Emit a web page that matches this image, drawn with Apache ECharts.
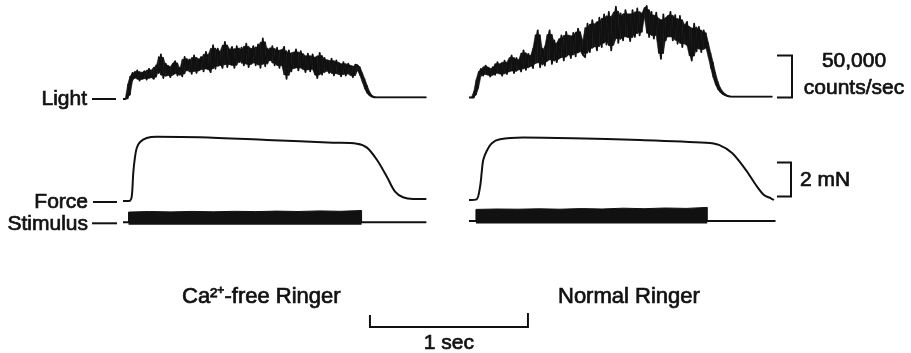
<!DOCTYPE html>
<html>
<head>
<meta charset="utf-8">
<script src="https://cdn.jsdelivr.net/npm/echarts@6.0.0/dist/echarts.min.js"></script>
<style>
  html, body { margin: 0; background: #fff; }
  #chart { width: 911px; height: 353px; }
</style>
</head>
<body>
<div id="chart"></div>
<script>
// light signal, 1000 counts/sec above resting level, one sample every lightStep sec
const lightStep = 0.015
const lightLeft = [
  0, 0, 1, 20, 31, 25, 34, 22, 30, 33,
  23, 36, 27, 24, 40, 31, 53, 25, 42, 36,
  26, 40, 45, 28, 37, 27, 50, 34, 47, 30,
  52, 31, 44, 50, 33, 56, 38, 32, 64, 36,
  60, 45, 37, 68, 38, 55, 62, 37, 63, 44,
  61, 40, 66, 38, 52, 63, 40, 65, 37, 72,
  39, 60, 46, 63, 40, 61, 37, 55, 62, 24,
  58, 33, 47, 59, 34, 57, 44, 32, 54, 33,
  53, 41, 25, 55, 29, 49, 38, 31, 48, 28,
  46, 35, 27, 44, 28, 42, 36, 26, 41, 40,
  33, 26, 18, 10, 5, 3, 2, 2, 2, 2,
  2, 2, 2, 2, 2, 2, 2, 2, 2, 2,
  2, 2, 2, 2, 2, 2, 2, 2, 2
]
const lightRight = [
  0, 0, 0, 8, 24, 34, 26, 38, 31, 25,
  36, 27, 42, 33, 26, 44, 28, 41, 50, 29,
  47, 38, 31, 56, 33, 52, 44, 35, 62, 80,
  36, 58, 38, 64, 80, 40, 68, 42, 55, 74,
  44, 78, 60, 47, 77, 49, 82, 70, 51, 48,
  88, 54, 92, 75, 56, 95, 60, 99, 63, 102,
  56, 86, 108, 65, 100, 68, 104, 90, 67, 104,
  72, 106, 74, 94, 104, 109, 72, 102, 70, 101,
  71, 46, 99, 68, 84, 102, 68, 98, 64, 97,
  60, 84, 90, 58, 44, 88, 55, 84, 54, 80,
  68, 56, 45, 32, 21, 13, 8, 5, 3, 2,
  1, 1, 1, 1, 1, 1, 1, 1, 1, 1,
  1, 1, 1, 1, 1, 1, 1, 1, 1
]

// force, mN
const forceTimeLeft = [0, 0.04, 0.055, 0.065, 0.076, 0.087, 0.108, 0.15, 0.213, 0.487, 0.91, 1.33, 1.48, 1.544, 1.608, 1.671, 1.722, 1.772, 1.835, 1.92]
const forceLeft = [0, 0, 0.24, 1.65, 2.59, 3.12, 3.47, 3.71, 3.78, 3.75, 3.59, 3.43, 3.37, 3.14, 2.41, 1.41, 0.55, 0.22, 0.12, 0.12]
const forceTimeRight = [0, 0.048, 0.07, 0.08, 0.09, 0.112, 0.143, 0.196, 0.342, 0.658, 1.082, 1.5, 1.582, 1.665, 1.753, 1.816, 1.867, 1.911, 1.93]
const forceRight = [0, 0.04, 0.78, 1.59, 2.35, 2.88, 3.33, 3.57, 3.67, 3.63, 3.53, 3.37, 3.24, 2.76, 1.76, 0.88, 0.29, 0.1, 0]

// stimulus train: on / off time (sec), height of the pulse envelope
const stimLeft = { on: 0.035, off: 1.51, end: 1.92 }
const stimTopLeft = [1.02, 1.08, 1.04, 1.09, 1.05, 1.1, 1.07, 1.12, 1.08, 1.14, 1.1, 1.18]
const stimRight = { on: 0.044, off: 1.508, end: 1.94 }
const stimTopRight = [1.16, 1.2, 1.18, 1.22, 1.18, 1.24, 1.2, 1.28, 1.23, 1.3, 1.26, 1.36]

// layout (px)
const secPx = 158
const lightPx = 0.84   // per 1000 counts/sec
const forcePx = 17     // per mN
const stimPx = 10
const black = '#111'
const font = 'Liberation Sans, Arial, sans-serif'

const chart = echarts.init(document.getElementById('chart'))

function makeGrid(left, zeroY, min, max, px) {
  return { left: left, top: zeroY - max * px, width: 2 * secPx, height: (max - min) * px }
}

function lineSeries(i, data, width, smooth) {
  return {
    type: 'line', xAxisIndex: i, yAxisIndex: i, data: data,
    showSymbol: false, smooth: smooth || false,
    lineStyle: { color: black, width: width, join: 'round' },
    silent: true
  }
}

// the noisy trace is so dense on paper that its core prints as a solid band:
// fill the inner part of the local min..max range of neighbouring samples
function lightBand(i, values) {
  const rows = values.map((v, k) => {
    const w = [values[k - 1] ?? v, v, values[k + 1] ?? v]
    const lo = Math.min(...w)
    const hi = Math.max(...w)
    return [k * lightStep, lo + 0.12 * (hi - lo), hi - 0.12 * (hi - lo)]
  })
  return {
    type: 'custom', xAxisIndex: i, yAxisIndex: i, data: rows,
    encode: { x: 0, y: [1, 2] }, silent: true,
    renderItem: (params, api) => {
      const k = params.dataIndex
      if (k >= rows.length - 1) return
      const a = rows[k]
      const b = rows[k + 1]
      return {
        type: 'polygon',
        shape: { points: [api.coord([a[0], a[1]]), api.coord([b[0], b[1]]), api.coord([b[0], b[2]]), api.coord([a[0], a[2]])] },
        style: { fill: black, stroke: black, lineWidth: 0.6 }
      }
    }
  }
}

function stimBlock(stim, tops) {
  const pts = [[stim.on, 0]]
  tops.forEach((v, k) => {
    pts.push([stim.on + k * (stim.off - stim.on) / (tops.length - 1), v])
  })
  pts.push([stim.off, 0])
  return pts
}

const yRanges = [[-10, 110, lightPx], [-0.5, 4.5, forcePx], [-0.25, 1.6, stimPx]]
const zeroLeft = [99, 201, 222.3]
const zeroRight = [97.5, 200, 221]

const grids = []
const xAxes = []
const yAxes = []
;[[123, zeroLeft], [469, zeroRight]].forEach(([left, zeros]) => {
  yRanges.forEach((r, k) => {
    grids.push(makeGrid(left, zeros[k], r[0], r[1], r[2]))
    xAxes.push({ type: 'value', gridIndex: grids.length - 1, min: 0, max: 2, show: false })
    yAxes.push({ type: 'value', gridIndex: grids.length - 1, min: r[0], max: r[1], show: false })
  })
})

const series = [
  lightBand(0, lightLeft),
  lineSeries(0, lightLeft.map((v, i) => [i * lightStep, v]), 1.8),
  lineSeries(1, forceTimeLeft.map((t, i) => [t, forceLeft[i]]), 2, 0.3),
  lineSeries(2, [[0, 0], [stimLeft.end, 0]], 2),
  Object.assign(lineSeries(2, stimBlock(stimLeft, stimTopLeft), 1), { areaStyle: { color: black, opacity: 1, origin: 'start' } }),
  lightBand(3, lightRight),
  lineSeries(3, lightRight.map((v, i) => [i * lightStep, v]), 1.8),
  lineSeries(4, forceTimeRight.map((t, i) => [t, forceRight[i]]), 2, 0.3),
  lineSeries(5, [[0, 0], [stimRight.end, 0]], 2),
  Object.assign(lineSeries(5, stimBlock(stimRight, stimTopRight), 1), { areaStyle: { color: black, opacity: 1, origin: 'start' } })
]

chart.setOption({
  animation: false,
  backgroundColor: '#fff',
  grid: grids,
  xAxis: xAxes,
  yAxis: yAxes,
  series: series
})

// annotations, placed from the axes
function text(str, x, y, align, size) {
  return {
    type: 'text', x: x, y: y, silent: true,
    style: {
      text: str, fill: black, stroke: black, lineWidth: 0.7,
      font: (size || 21) + 'px ' + font, textAlign: align, textVerticalAlign: 'middle'
    }
  }
}
function seg(x1, y1, x2, y2) {
  return { type: 'line', silent: true, shape: { x1, y1, x2, y2 }, style: { stroke: black, lineWidth: 2 } }
}

const lightZero = chart.convertToPixel({ gridIndex: 0 }, [0, 0])[1]
const forceZero = chart.convertToPixel({ gridIndex: 1 }, [0, 0])[1]
const stimZero = chart.convertToPixel({ gridIndex: 2 }, [0, 0])[1]

// 50,000 counts/sec bracket
const cBot = chart.convertToPixel({ gridIndex: 3 }, [0, 0])[1]
const cTop = chart.convertToPixel({ gridIndex: 3 }, [0, 50])[1]
// 2 mN bracket
const fBot = chart.convertToPixel({ gridIndex: 4 }, [0, 0.2])[1]
const fTop = chart.convertToPixel({ gridIndex: 4 }, [0, 2.2])[1]
// 1 sec bar
const sL = chart.convertToPixel({ gridIndex: 0 }, [1.563, 0])[0]
const sR = chart.convertToPixel({ gridIndex: 0 }, [2.563, 0])[0]

chart.setOption({
  graphic: [
    text('Light', 87, lightZero, 'right'),
    seg(92, lightZero, 116, lightZero),
    text('Force', 88, forceZero + 1, 'right'),
    seg(93, forceZero + 1, 117, forceZero + 1),
    text('Stimulus', 88, stimZero + 2, 'right'),
    seg(92, stimZero + 1, 117, stimZero + 1),

    { type: 'polyline', silent: true, shape: { points: [[777, cTop], [792, cTop], [792, cBot], [777, cBot]] }, style: { stroke: black, lineWidth: 2, fill: null } },
    text('50,000', 854, 61, 'center'),
    text('counts/sec', 854, 88, 'center'),

    { type: 'polyline', silent: true, shape: { points: [[777, fTop], [791, fTop], [791, fBot], [777, fBot]] }, style: { stroke: black, lineWidth: 2, fill: null } },
    text('2 mN', 800, 180, 'left'),

    text('Ca²⁺-free Ringer', 182, 297, 'left', 22),
    text('Normal Ringer', 558, 297, 'left', 22),

    { type: 'polyline', silent: true, shape: { points: [[sL, 315], [sL, 327], [sR, 327], [sR, 313]] }, style: { stroke: black, lineWidth: 2, fill: null } },
    text('1 sec', (sL + sR) / 2, 343, 'center')
  ]
})
</script>
</body>
</html>
